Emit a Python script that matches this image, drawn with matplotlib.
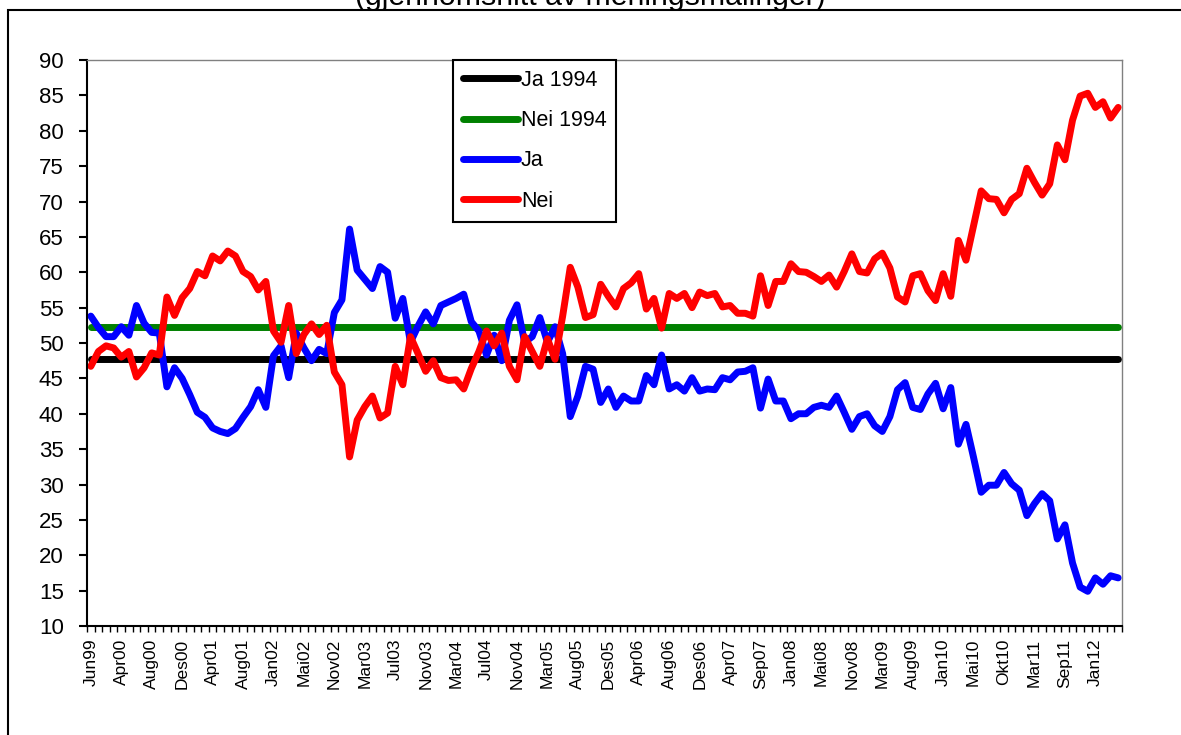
import numpy as np
import matplotlib
matplotlib.use("Agg")
import matplotlib.pyplot as plt
from matplotlib.patches import Rectangle

plt.rcParams["font.family"] = ["Liberation Sans", "DejaVu Sans"]

# folkeavstemningen 1994
ja_1994 = 47.8
nei_1994 = 52.2

# labels shown on every 4th poll
tick_labels = ["Jun99", "Apr00", "Aug00", "Des00", "Apr01", "Aug01", "Jan02", "Mai02",
               "Nov02", "Mar03", "Jul03", "Nov03", "Mar04", "Jul04", "Nov04", "Mar05",
               "Aug05", "Des05", "Apr06", "Aug06", "Des06", "Apr07", "Sep07", "Jan08",
               "Mai08", "Nov08", "Mar09", "Aug09", "Jan10", "Mai10", "Okt10", "Mar11",
               "Sep11", "Jan12"]

ja = [53.8, 52.2, 50.9, 50.9, 52.3, 51.1, 55.3, 52.8, 51.5, 51.4,
      43.8, 46.5, 45.0, 42.7, 40.2, 39.5, 38.0, 37.5, 37.2, 37.9,
      39.5, 41.0, 43.4, 40.9, 48.2, 49.6, 45.1, 51.4, 49.3, 47.5,
      49.1, 48.5, 54.3, 56.1, 66.1, 60.3, 59.0, 57.7, 60.8, 60.0,
      53.5, 56.3, 50.1, 52.4, 54.4, 52.7, 55.3, 55.8, 56.3, 56.9,
      53.0, 51.7, 48.3, 51.1, 47.5, 53.2, 55.4, 50.1, 50.9, 53.6,
      50.1, 52.3, 48.5, 39.6, 42.5, 46.7, 46.3, 41.6, 43.5, 40.9,
      42.5, 41.8, 41.8, 45.4, 44.1, 48.3, 43.5, 44.1, 43.2, 45.1,
      43.2, 43.5, 43.4, 45.1, 44.8, 45.9, 46.0, 46.5, 40.8, 44.9,
      41.8, 41.8, 39.3, 40.0, 40.0, 40.9, 41.2, 40.9, 42.5, 40.2,
      37.8, 39.6, 40.0, 38.3, 37.5, 39.6, 43.4, 44.4, 40.9, 40.6,
      42.8, 44.3, 40.7, 43.7, 35.7, 38.5, 33.8, 28.9, 29.9, 29.9,
      31.7, 30.1, 29.2, 25.6, 27.3, 28.7, 27.7, 22.3, 24.3, 18.9,
      15.5, 14.9, 16.8, 15.9, 17.1, 16.8]

nei = [46.7, 48.8, 49.6, 49.3, 48.0, 48.8, 45.2, 46.5, 48.6, 48.3,
       56.5, 53.9, 56.4, 57.7, 60.1, 59.5, 62.3, 61.6, 63.0, 62.3,
       60.1, 59.4, 57.5, 58.7, 51.7, 50.1, 55.3, 48.5, 51.2, 52.7,
       51.2, 52.5, 45.9, 44.1, 33.9, 39.1, 41.0, 42.5, 39.4, 40.1,
       46.7, 44.1, 50.9, 48.5, 46.0, 47.5, 45.1, 44.7, 44.8, 43.5,
       46.4, 48.8, 51.7, 49.6, 51.4, 46.7, 44.8, 50.9, 48.8, 46.7,
       50.6, 47.7, 53.8, 60.7, 57.9, 53.6, 54.0, 58.3, 56.6, 55.1,
       57.7, 58.5, 59.8, 54.8, 56.3, 52.1, 57.0, 56.3, 57.0, 55.0,
       57.2, 56.7, 57.0, 55.1, 55.3, 54.2, 54.2, 53.8, 59.5, 55.3,
       58.7, 58.7, 61.2, 60.1, 60.0, 59.4, 58.7, 59.6, 57.9, 60.1,
       62.6, 60.1, 59.9, 61.9, 62.7, 60.6, 56.5, 55.8, 59.5, 59.8,
       57.4, 56.0, 59.8, 56.6, 64.5, 61.7, 66.6, 71.5, 70.4, 70.3,
       68.4, 70.3, 71.1, 74.7, 72.7, 70.9, 72.5, 78.0, 75.9, 81.5,
       84.9, 85.3, 83.3, 84.1, 81.8, 83.3]

n = len(ja)
x = np.arange(n)

W, H = 1181, 735
fig = plt.figure(figsize=(W / 100, H / 100), dpi=100)
ax = fig.add_axes([87 / W, 1 - 626 / H, (1122 - 87) / W, (626 - 60) / H])

line_kw = dict(lw=5, solid_capstyle="round", solid_joinstyle="round")
ax.plot(x, [ja_1994] * n, color="black", label="Ja 1994", **line_kw)
ax.plot(x, [nei_1994] * n, color="#008000", label="Nei 1994", **line_kw)
ax.plot(x, ja, color="#0000FF", label="Ja", **line_kw)
ax.plot(x, nei, color="#FF0000", label="Nei", **line_kw)

ax.set_xlim(-0.5, n - 0.5)
ax.set_ylim(10, 90)
ax.set_yticks(np.arange(10, 91, 5))
ax.tick_params(axis="y", length=5.8, width=1.5, labelsize=16, pad=11)

ax.set_xticks(np.arange(0, n, 4)[:len(tick_labels)])
ax.set_xticklabels(tick_labels, rotation=90, fontsize=12.5)
ax.set_xticks(np.arange(-0.5, n, 1), minor=True)
ax.tick_params(axis="x", which="major", length=0, pad=9)
ax.tick_params(axis="x", which="minor", length=4, width=1)

for side in ["top", "right"]:
    ax.spines[side].set_color("#808080")
    ax.spines[side].set_linewidth(1)
for side in ["left", "bottom"]:
    ax.spines[side].set_color("black")
    ax.spines[side].set_linewidth(1.5)

leg = ax.legend(loc="upper left", bbox_to_anchor=((453 - 87) / (1122 - 87), 1.0),
                borderaxespad=0, fancybox=False, framealpha=1, edgecolor="black",
                fontsize=15.5, handlelength=2.55, handletextpad=0.15,
                labelspacing=0.9, borderpad=0.45)
leg.get_frame().set_linewidth(1.5)

# ramme rundt hele figuren og avkuttet tittel
fig.patches.append(Rectangle((8 / W, -0.1), 1.2, 1 + 0.1 - 10 / H, transform=fig.transFigure,
                             fill=False, edgecolor="black", lw=1.5))
fig.text(0.5, 1 - 5 / H, "(gjennomsnitt av meningsmålinger)", ha="center",
         va="baseline", fontsize=21.8)

fig.savefig("out.png", dpi=100)
